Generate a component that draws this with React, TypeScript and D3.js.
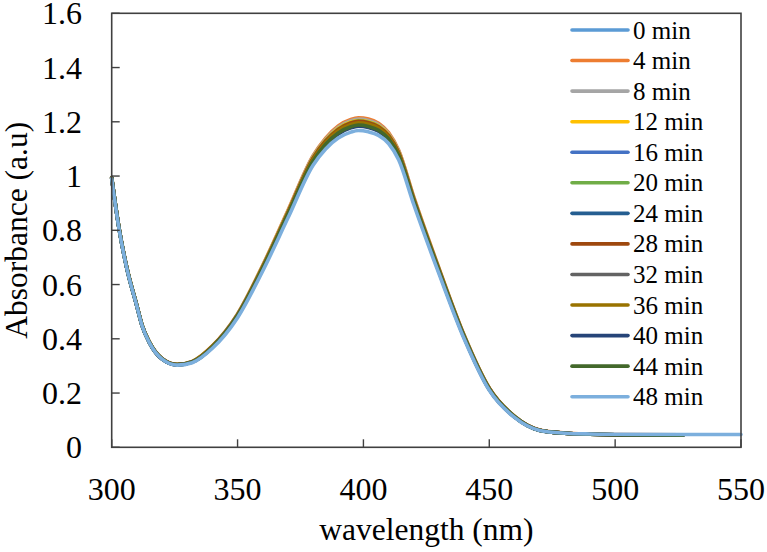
import React, { useMemo } from 'react';
import * as d3 from 'd3';

// wavelength samples (nm); the 48 min trace runs on to 550
const wavelengths = [
  300, 303, 306, 310, 312, 315, 320, 326, 332, 340, 350, 360, 370, 380, 385, 390, 395, 398,
  402, 406, 410, 414, 420, 430, 440, 450, 460, 470, 480, 490, 500, 527, 550,
];

const min0 = [0.995, 0.805, 0.662, 0.522, 0.452, 0.387, 0.327, 0.305, 0.315, 0.371, 0.488, 0.664, 0.864, 1.064, 1.127, 1.17, 1.194, 1.2, 1.195, 1.18, 1.147, 1.084, 0.914, 0.654, 0.41, 0.216, 0.113, 0.063, 0.052, 0.048, 0.046, 0.045];
const min4 = [0.993, 0.803, 0.663, 0.523, 0.453, 0.388, 0.328, 0.306, 0.317, 0.374, 0.492, 0.671, 0.873, 1.075, 1.14, 1.185, 1.209, 1.215, 1.21, 1.195, 1.16, 1.095, 0.923, 0.661, 0.414, 0.219, 0.115, 0.064, 0.053, 0.049, 0.047, 0.046];
const min8 = [0.994, 0.804, 0.662, 0.522, 0.452, 0.387, 0.327, 0.306, 0.316, 0.373, 0.491, 0.669, 0.87, 1.072, 1.136, 1.18, 1.204, 1.21, 1.205, 1.19, 1.156, 1.092, 0.92, 0.659, 0.413, 0.218, 0.114, 0.063, 0.052, 0.048, 0.046, 0.045];
const min12 = [0.994, 0.803, 0.662, 0.522, 0.452, 0.387, 0.327, 0.305, 0.316, 0.372, 0.489, 0.667, 0.867, 1.068, 1.132, 1.175, 1.199, 1.205, 1.2, 1.185, 1.152, 1.088, 0.917, 0.657, 0.411, 0.217, 0.114, 0.063, 0.052, 0.048, 0.046, 0.045];
const min16 = [0.993, 0.803, 0.661, 0.521, 0.451, 0.386, 0.326, 0.305, 0.315, 0.371, 0.487, 0.664, 0.863, 1.063, 1.126, 1.169, 1.192, 1.198, 1.193, 1.179, 1.146, 1.083, 0.913, 0.654, 0.409, 0.216, 0.113, 0.063, 0.052, 0.048, 0.046, 0.045];
const min20 = [0.994, 0.804, 0.662, 0.522, 0.452, 0.387, 0.327, 0.305, 0.316, 0.372, 0.489, 0.666, 0.866, 1.066, 1.13, 1.173, 1.197, 1.203, 1.198, 1.183, 1.15, 1.086, 0.916, 0.656, 0.411, 0.217, 0.114, 0.063, 0.052, 0.048, 0.046, 0.045];
const min24 = [0.993, 0.802, 0.661, 0.521, 0.451, 0.386, 0.326, 0.304, 0.315, 0.37, 0.486, 0.662, 0.861, 1.06, 1.122, 1.165, 1.188, 1.194, 1.189, 1.175, 1.142, 1.08, 0.911, 0.652, 0.408, 0.215, 0.113, 0.063, 0.052, 0.048, 0.046, 0.045];
const min28 = [0.994, 0.804, 0.662, 0.522, 0.452, 0.387, 0.327, 0.305, 0.315, 0.372, 0.488, 0.665, 0.865, 1.066, 1.129, 1.172, 1.196, 1.202, 1.197, 1.182, 1.149, 1.086, 0.915, 0.655, 0.41, 0.217, 0.113, 0.063, 0.052, 0.048, 0.046, 0.045];
const min32 = [0.992, 0.802, 0.661, 0.521, 0.451, 0.386, 0.326, 0.304, 0.314, 0.369, 0.485, 0.66, 0.858, 1.057, 1.119, 1.161, 1.184, 1.19, 1.185, 1.171, 1.139, 1.077, 0.908, 0.65, 0.407, 0.214, 0.112, 0.063, 0.052, 0.048, 0.046, 0.045];
const min36 = [0.993, 0.803, 0.661, 0.521, 0.451, 0.386, 0.326, 0.305, 0.315, 0.371, 0.486, 0.663, 0.862, 1.061, 1.124, 1.167, 1.19, 1.196, 1.191, 1.177, 1.144, 1.081, 0.912, 0.653, 0.408, 0.216, 0.113, 0.063, 0.052, 0.048, 0.046, 0.045];
const min40 = [0.992, 0.801, 0.66, 0.52, 0.45, 0.385, 0.325, 0.304, 0.314, 0.368, 0.483, 0.657, 0.855, 1.052, 1.114, 1.155, 1.178, 1.184, 1.179, 1.165, 1.134, 1.072, 0.905, 0.647, 0.405, 0.213, 0.112, 0.062, 0.052, 0.048, 0.046, 0.045];
const min44 = [0.992, 0.802, 0.661, 0.521, 0.451, 0.386, 0.326, 0.304, 0.314, 0.369, 0.484, 0.659, 0.857, 1.055, 1.117, 1.159, 1.182, 1.188, 1.183, 1.169, 1.137, 1.075, 0.907, 0.649, 0.406, 0.214, 0.112, 0.062, 0.052, 0.048, 0.046, 0.045];
const min48 = [0.99, 0.8, 0.66, 0.52, 0.45, 0.385, 0.325, 0.303, 0.312, 0.365, 0.478, 0.65, 0.845, 1.04, 1.1, 1.14, 1.162, 1.168, 1.163, 1.15, 1.12, 1.06, 0.895, 0.64, 0.4, 0.21, 0.11, 0.062, 0.052, 0.049, 0.048, 0.047, 0.047];

const seriesNames = ['0 min', '4 min', '8 min', '12 min', '16 min', '20 min', '24 min', '28 min', '32 min', '36 min', '40 min', '44 min', '48 min'];
const seriesValues = [min0, min4, min8, min12, min16, min20, min24, min28, min32, min36, min40, min44, min48];
const seriesColors = ['#5b9bd5', '#ed7d31', '#a5a5a5', '#ffc000', '#4472c4', '#70ad47', '#255e91', '#9e480e', '#636363', '#997300', '#264478', '#43682b', '#7cafdd'];

const xTickValues = [300, 350, 400, 450, 500, 550];
const yTickValues = [0, 0.2, 0.4, 0.6, 0.8, 1, 1.2, 1.4, 1.6];

const W = 767;
const H = 552;
const plot = { left: 111.7, right: 741, top: 13.3, bottom: 447.3 };
const serif = 'Times New Roman';
const axisColor = '#404040';

export default function App() {
  const x = useMemo(() => d3.scaleLinear().domain([300, 550]).range([plot.left, plot.right]), []);
  const y = useMemo(() => d3.scaleLinear().domain([0, 1.6]).range([plot.bottom, plot.top]), []);

  const line = d3
    .line<[number, number]>()
    .x((d) => x(d[0]))
    .y((d) => y(d[1]))
    .curve(d3.curveMonotoneX);

  const legendY = d3.scaleLinear().domain([0, 12]).range([30, 396.7]);

  return (
    <svg width={W} height={H} style={{ position: 'absolute', left: 0, top: 0 }}>
      {/* spectra, 0 min first so 48 min sits on top */}
      {seriesValues.map((vals, i) => (
        <path
          key={seriesNames[i]}
          d={line(vals.map((v, j) => [wavelengths[j], v] as [number, number])) ?? ''}
          fill="none"
          stroke={seriesColors[i]}
          strokeWidth={3.6}
          strokeLinejoin="round"
          strokeLinecap="round"
        />
      ))}

      {/* frame */}
      <rect
        x={plot.left}
        y={plot.top}
        width={plot.right - plot.left}
        height={plot.bottom - plot.top}
        fill="none"
        stroke={axisColor}
        strokeWidth={1.6}
      />

      {/* y ticks + labels */}
      {yTickValues.map((t) => (
        <g key={`y-${t}`}>
          <line x1={plot.left} x2={plot.left + 8} y1={y(t)} y2={y(t)} stroke={axisColor} strokeWidth={1.4} />
          <text x={82} y={y(t) + 11} textAnchor="end" fontSize={32} fontFamily={serif}>
            {d3.format('~g')(t)}
          </text>
        </g>
      ))}

      {/* x ticks + labels */}
      {xTickValues.map((t) => (
        <g key={`x-${t}`}>
          <line x1={x(t)} x2={x(t)} y1={plot.bottom} y2={plot.bottom - 8} stroke={axisColor} strokeWidth={1.4} />
          <text x={x(t)} y={500} textAnchor="middle" fontSize={32} fontFamily={serif}>
            {t}
          </text>
        </g>
      ))}

      {/* axis titles */}
      <text x={(plot.left + plot.right) / 2} y={540} textAnchor="middle" fontSize={31.5} fontFamily={serif}>
        wavelength (nm)
      </text>
      <text
        transform={`translate(27, ${(plot.top + plot.bottom) / 2}) rotate(-90)`}
        textAnchor="middle"
        fontSize={31.5}
        fontFamily={serif}
      >
        Absorbance (a.u)
      </text>

      {/* legend */}
      {seriesNames.map((name, i) => (
        <g key={`lg-${name}`}>
          <line
            x1={572}
            x2={628}
            y1={legendY(i)}
            y2={legendY(i)}
            stroke={seriesColors[i]}
            strokeWidth={3.6}
            strokeLinecap="round"
          />
          <text x={633} y={legendY(i) + 8.5} fontSize={25} fontFamily={serif}>
            {name}
          </text>
        </g>
      ))}
    </svg>
  );
}
